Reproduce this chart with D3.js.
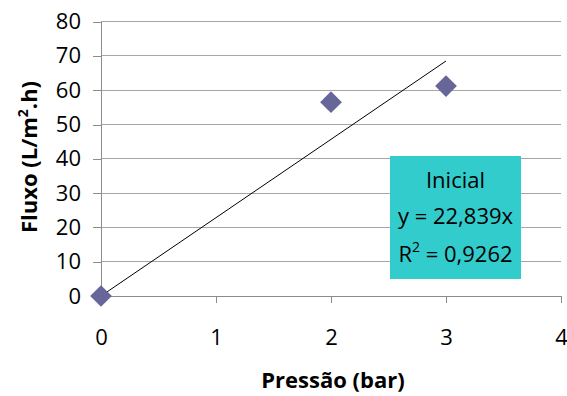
<!DOCTYPE html>
<html>
<head>
<meta charset="utf-8">
<script src="https://cdn.jsdelivr.net/npm/d3@7"></script>
<style>
  html, body { margin: 0; padding: 0; background: #fff; }
  svg { display: block; font-family: "Open Sans", sans-serif; }
</style>
</head>
<body>
<svg id="chart" width="567" height="396"></svg>
<script>
// Pressure (bar) vs. flux measurements
const pressao = [0, 2, 3];
const fluxo = [0, 56.5, 61.2];

// Linear fit through the origin
const slope = 22.839;
const r2 = 0.9262;
const trendX = [0, 3];

const xTicks = [0, 1, 2, 3, 4];
const yTicks = [0, 10, 20, 30, 40, 50, 60, 70, 80];

const svg = d3.select("#chart");
const plotLeft = 101, plotRight = 561, plotTop = 21.6, plotBottom = 296;

const x = d3.scaleLinear().domain([0, 4]).range([plotLeft, plotRight]);
const y = d3.scaleLinear().domain([0, 80]).range([plotBottom, plotTop]);

// Horizontal gridlines
svg.append("g")
  .selectAll("line")
  .data(yTicks.filter(d => d > 0))
  .join("line")
  .attr("x1", plotLeft).attr("x2", plotRight)
  .attr("y1", d => y(d)).attr("y2", d => y(d))
  .attr("stroke", "#a6a6a6").attr("stroke-width", 1)
  .attr("shape-rendering", "crispEdges");

// Y axis
const yAxis = svg.append("g")
  .attr("transform", `translate(${plotLeft},0)`)
  .call(d3.axisLeft(y).tickValues(yTicks).tickFormat(d3.format("d")).tickSize(8).tickPadding(12));
// X axis
const xAxis = svg.append("g")
  .attr("transform", `translate(0,${plotBottom})`)
  .call(d3.axisBottom(x).tickValues(xTicks).tickFormat(d3.format("d")).tickSize(7).tickPadding(26));

[yAxis, xAxis].forEach(a => {
  a.select(".domain").attr("stroke", "#8c8c8c").attr("shape-rendering", "crispEdges");
  a.selectAll(".tick line").attr("stroke", "#8c8c8c").attr("shape-rendering", "crispEdges");
  a.selectAll(".tick text").attr("font-family", "'Open Sans', sans-serif")
    .attr("font-size", 22).attr("fill", "#000");
});
xAxis.select(".domain").attr("d", `M${plotLeft},0.5H${plotRight}`);
yAxis.select(".domain").attr("d", `M0.5,${plotBottom}V${plotTop}`);

// Trendline
svg.append("line")
  .attr("x1", x(trendX[0])).attr("y1", y(slope * trendX[0]))
  .attr("x2", x(trendX[1])).attr("y2", y(slope * trendX[1]))
  .attr("stroke", "#000").attr("stroke-width", 1);

// Data points (diamonds)
const diamond = d3.symbol().type(d3.symbolSquare).size(236);
svg.append("g")
  .selectAll("path")
  .data(pressao.map((p, i) => [p, fluxo[i]]))
  .join("path")
  .attr("d", diamond)
  .attr("transform", d => `translate(${x(d[0])},${y(d[1])}) rotate(45)`)
  .attr("fill", "#666699");

// Trendline label box
const box = svg.append("g");
box.append("rect")
  .attr("x", 390).attr("y", 156).attr("width", 131).attr("height", 123)
  .attr("fill", "#33cccc");
const cx = 455.5;
const fs = 22;
box.append("text").attr("x", cx).attr("y", 188).attr("text-anchor", "middle")
  .attr("font-size", fs).text("Inicial");
box.append("text").attr("x", cx).attr("y", 224).attr("text-anchor", "middle")
  .attr("font-size", fs).text("y = " + d3.format(".3f")(slope).replace(".", ",") + "x");
const r2t = box.append("text").attr("x", cx).attr("y", 262).attr("text-anchor", "middle")
  .attr("font-size", fs);
r2t.append("tspan").text("R");
r2t.append("tspan").attr("dy", -10).attr("font-size", 14).text("2");
r2t.append("tspan").attr("dy", 10).text(" = " + d3.format(".4f")(r2).replace(".", ","));

// Axis titles
svg.append("text")
  .attr("x", 333).attr("y", 388).attr("text-anchor", "middle")
  .attr("font-size", 22).attr("font-weight", "bold").text("Pressão (bar)");

const yt = svg.append("text")
  .attr("transform", "translate(37,157) rotate(-90)")
  .attr("text-anchor", "middle")
  .attr("font-size", 22).attr("font-weight", "bold");
yt.append("tspan").text("Fluxo (L/m");
yt.append("tspan").attr("dy", -9).attr("font-size", 14).text("2");
yt.append("tspan").attr("dy", 9).text(".h)");
</script>
</body>
</html>
